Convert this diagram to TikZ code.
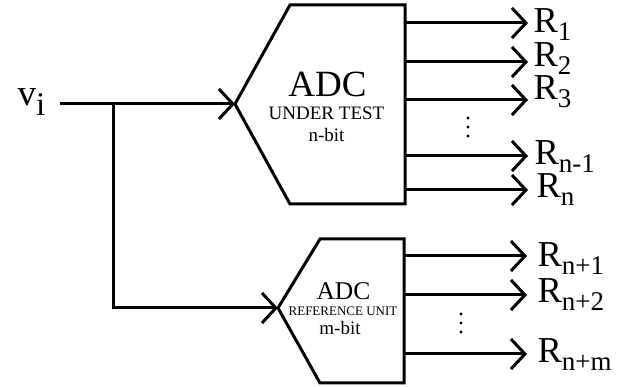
\documentclass[tikz,border=0pt]{standalone}
\usepackage{fontspec}
\setmainfont{Liberation Serif}
\usetikzlibrary{arrows.meta}

% R with a lowered subscript, as used for the converter outputs
\newcommand\outlabel[1]{R\raisebox{-8pt}{\fontsize{27}{27}\selectfont #1}}

\begin{document}
\begin{tikzpicture}[x=1pt,y=-1pt,line width=3pt,line join=miter,
  barb/.style={-{Straight Barb[length=14pt,width=30pt]}},
  outtext/.style={anchor=base west,inner sep=0pt,font=\fontsize{36.5}{36.5}\selectfont},
  blocktext/.style={anchor=base,inner sep=0pt},
  dot/.style={fill,circle,inner sep=0pt,minimum size=3.4pt}]
\useasboundingbox (0,0) rectangle (641,387);

% ---- converter under test ----
\coordinate (a1) at (290,5);
\coordinate (a2) at (405,5);
\coordinate (a3) at (405,204);
\coordinate (a4) at (290,204);
\coordinate (ain) at (235,104);
\draw (a1) -- (a2) -- (a3) -- (a4) -- (ain) -- cycle;

\node[blocktext,font=\fontsize{37}{37}\selectfont] (adc1) at (327.5,97) {ADC};
\node[blocktext,font=\fontsize{19}{19}\selectfont] (ut) at (326.5,120) {UNDER TEST};
\node[blocktext,font=\fontsize{19}{19}\selectfont] (nb) at (326.5,142) {n-bit};

% ---- reference converter ----
\coordinate (b1) at (320,239);
\coordinate (b2) at (404,239);
\coordinate (b3) at (404,383);
\coordinate (b4) at (320,383);
\coordinate (bin) at (278,308);
\draw (b1) -- (b2) -- (b3) -- (b4) -- (bin) -- cycle;

\node[blocktext,font=\fontsize{25.5}{25.5}\selectfont] (adc2) at (343.5,300) {ADC};
\node[blocktext,font=\fontsize{13}{13}\selectfont] (ru) at (343,316) {REFERENCE UNIT};
\node[blocktext,font=\fontsize{19}{19}\selectfont] (mb) at (340,335) {m-bit};

% ---- input ----
\node[anchor=base west,inner sep=0pt,font=\fontsize{37}{37}\selectfont] (vi) at (16,106)
  {v\raisebox{-10pt}{\fontsize{33}{33}\selectfont i}};
\coordinate (vs) at (60,104);
\coordinate (split) at (113,104);
\coordinate (corner) at (113,308);
\draw[barb] (vs) -- (ain);
\draw[barb] (split) -- (corner) -- (bin);

% ---- outputs of the converter under test ----
\foreach \y/\s/\lx/\ly [count=\k] in {23/1/532/33, 62/2/532/67, 100/3/532/100,
                                       156/n-1/533/165, 190/n/535/198} {
  \coordinate (ts\k) at (405,\y);
  \coordinate (te\k) at (528,\y);
  \draw[barb] (ts\k) -- (te\k);
  \node[outtext] (tl\k) at (\lx,\ly) {\outlabel{\s}};
}
\node[dot] (td1) at (468,118) {};
\node[dot] (td2) at (468,127) {};
\node[dot] (td3) at (468,136) {};

% ---- outputs of the reference converter ----
\foreach \y/\s/\ly [count=\k] in {256/n+1/267, 295/n+2/303, 354/n+m/363} {
  \coordinate (rs\k) at (404,\y);
  \coordinate (re\k) at (527,\y);
  \draw[barb] (rs\k) -- (re\k);
  \node[outtext] (rl\k) at (536,\ly) {\outlabel{\s}};
}
\node[dot] (rd1) at (461,314) {};
\node[dot] (rd2) at (461,323) {};
\node[dot] (rd3) at (461,332) {};
\end{tikzpicture}
\end{document}
